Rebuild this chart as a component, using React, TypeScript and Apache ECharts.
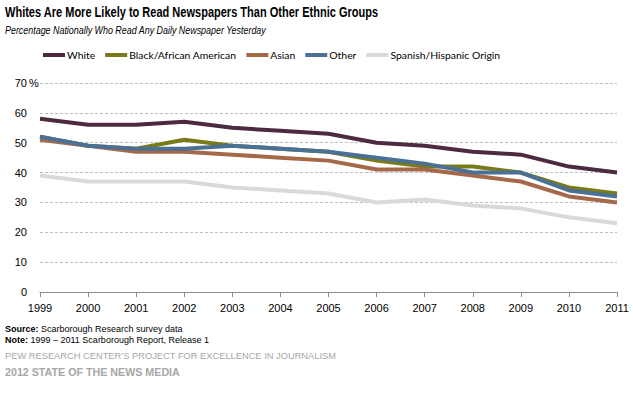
import React, { useEffect, useRef } from "react";
import * as echarts from "echarts";

const years = ["1999", "2000", "2001", "2002", "2003", "2004", "2005", "2006", "2007", "2008", "2009", "2010", "2011"];
const white = [58, 56, 56, 57, 55, 54, 53, 50, 49, 47, 46, 42, 40];
const black = [52, 49, 48, 51, 49, 48, 47, 44, 42, 42, 40, 35, 33];
const asian = [51, 49, 47, 47, 46, 45, 44, 41, 41, 39, 37, 32, 30];
const other = [52, 49, 48, 48, 49, 48, 47, 45, 43, 40, 40, 34, 32];
const hispanic = [39, 37, 37, 37, 35, 34, 33, 30, 31, 29, 28, 25, 23];

const seriesNames = ["White", "Black/African American", "Asian", "Other", "Spanish/Hispanic Origin"];
const seriesData = [white, black, asian, other, hispanic];
const seriesColors = ["#4D2A40", "#7A7A1A", "#A5694A", "#4A7096", "#D9D9D9"];

const title = "Whites Are More Likely to Read Newspapers Than Other Ethnic Groups";
const subtitle = "Percentage Nationally Who Read Any Daily Newspaper Yesterday";

export default function App() {
  const ref = useRef<HTMLDivElement>(null);
  useEffect(() => {
    if (!ref.current) return;
    const chart = echarts.init(ref.current, null, { renderer: "svg" });
    const font = "'Liberation Sans', Arial, sans-serif";
    chart.setOption({
      animation: false,
      backgroundColor: "#fff",
      textStyle: { fontFamily: font },
      grid: { left: 40, right: 16, top: 83, bottom: 101 },
      legend: {
        left: 38,
        top: 45,
        icon: "rect",
        itemWidth: 22,
        itemHeight: 4,
        itemGap: 10,
        textStyle: { fontFamily: "Lato, 'Open Sans', sans-serif", fontSize: 10.4, color: "#000", padding: [0, 0, 0, -3] },
        data: seriesNames,
      },
      xAxis: {
        type: "category",
        data: years,
        boundaryGap: false,
        axisLine: { lineStyle: { color: "#8C8C8C", width: 1 } },
        axisTick: { show: true, length: 5, lineStyle: { color: "#8C8C8C" } },
        axisLabel: { color: "#000", fontSize: 11, margin: 10, fontFamily: font },
      },
      yAxis: {
        type: "value",
        min: 0,
        max: 70,
        interval: 10,
        axisLine: { show: false },
        axisTick: { show: false },
        axisLabel: { color: "#000", fontSize: 11, margin: 13, fontFamily: font },
        splitLine: { lineStyle: { color: "#BFBFBF", type: [3, 2], width: 1 } },
      },
      series: seriesNames.map((name, i) => ({
        name,
        type: "line",
        data: seriesData[i],
        symbol: "none",
        lineStyle: { color: seriesColors[i], width: 4 },
        itemStyle: { color: seriesColors[i] },
      })),
      graphic: [
        {
          type: "text",
          x: 5,
          y: 4,
          scaleX: 0.735,
          style: { text: title, font: `bold 15px ${font}`, fill: "#000" },
        },
        {
          type: "text",
          x: 5,
          y: 25,
          scaleX: 0.81,
          style: { text: subtitle, font: `italic 11px ${font}`, fill: "#000" },
        },
        {
          type: "text",
          left: 29,
          top: 77,
          style: { text: "%", font: `11px ${font}`, fill: "#000" },
        },
        {
          type: "text",
          left: 5,
          top: 324,
          style: {
            text: "{b|Source:} Scarborough Research survey data",
            rich: { b: { fontWeight: "bold", fontSize: 9, fontFamily: font, fill: "#000" } },
            font: `9px ${font}`,
            fill: "#000",
          },
        },
        {
          type: "text",
          left: 5,
          top: 335,
          style: {
            text: "{b|Note:} 1999 \u2013 2011 Scarborough Report, Release 1",
            rich: { b: { fontWeight: "bold", fontSize: 9, fontFamily: font, fill: "#000" } },
            font: `9px ${font}`,
            fill: "#000",
          },
        },
        {
          type: "text",
          left: 5,
          top: 351,
          style: { text: "PEW RESEARCH CENTER\u2019S PROJECT FOR EXCELLENCE IN JOURNALISM", font: `9.3px ${font}`, fill: "#A6A6A6" },
        },
        {
          type: "text",
          left: 5,
          top: 366,
          style: { text: "2012 STATE OF THE NEWS MEDIA", font: `bold 10.7px ${font}`, fill: "#A6A6A6" },
        },
      ],
    });
    return () => chart.dispose();
  }, []);
  return <div ref={ref} style={{ position: "absolute", left: 0, top: 0, width: 633, height: 393 }} />;
}
